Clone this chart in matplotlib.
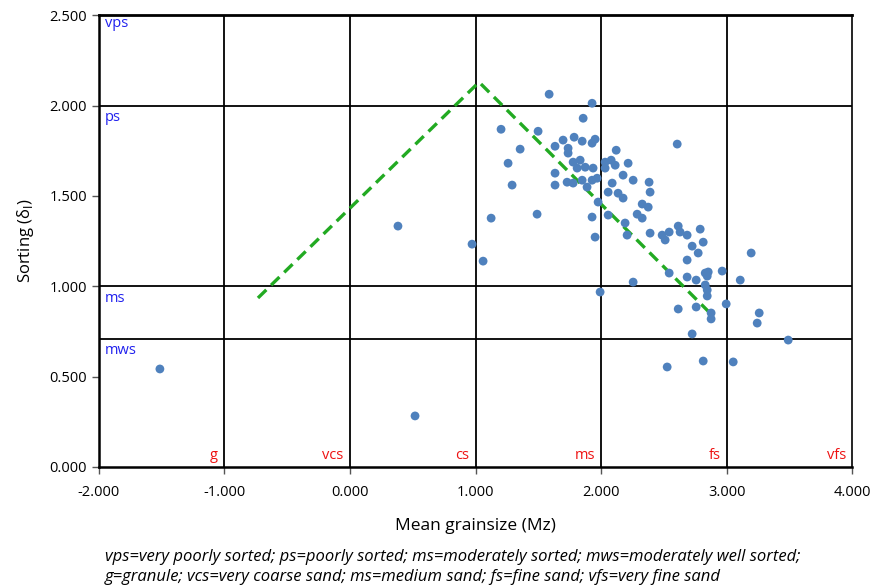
import matplotlib
matplotlib.use("Agg")
import matplotlib.pyplot as plt

# ---- data ----
mean_mz = [-1.514, 0.518, 0.382, 0.972, 1.060, 1.124, 1.490, 1.586, 1.928, 1.857,
           1.203, 1.498, 1.355, 1.259, 1.291, 1.697, 1.785, 1.849, 1.737, 1.737,
           1.633, 1.777, 1.833, 1.809, 1.873, 1.633, 1.633, 1.729, 1.777, 1.849,
           1.888, 1.952, 1.928, 2.606, 2.120, 2.032, 2.080, 2.112, 2.215, 2.175,
           2.255, 2.382, 2.088, 1.936, 1.928, 1.968, 2.032, 2.056, 2.135, 2.175,
           2.390, 1.976, 2.327, 2.375, 2.056, 2.287, 2.327, 1.928, 2.191, 1.952,
           2.207, 2.390, 2.486, 2.542, 2.510, 2.614, 2.629, 2.685, 2.789, 2.813,
           2.725, 2.773, 2.685, 2.542, 2.685, 2.757, 2.829, 2.853, 2.845, 2.829,
           2.255, 1.992, 3.195, 2.964, 3.108, 2.845, 2.845, 2.614, 2.757, 2.996,
           2.876, 2.876, 3.259, 3.243, 2.725, 3.490, 2.526, 2.813, 3.052]
sorting = [0.542, 0.282, 1.333, 1.233, 1.139, 1.377, 1.399, 2.063, 2.013, 1.930,
           1.869, 1.858, 1.759, 1.681, 1.560, 1.809, 1.825, 1.803, 1.764, 1.737,
           1.775, 1.687, 1.698, 1.654, 1.659, 1.626, 1.560, 1.576, 1.571, 1.587,
           1.549, 1.814, 1.792, 1.787, 1.753, 1.687, 1.698, 1.670, 1.681, 1.615,
           1.587, 1.576, 1.571, 1.654, 1.587, 1.598, 1.654, 1.521, 1.515, 1.488,
           1.521, 1.466, 1.455, 1.438, 1.394, 1.399, 1.377, 1.383, 1.350, 1.272,
           1.283, 1.294, 1.283, 1.300, 1.256, 1.333, 1.300, 1.283, 1.316, 1.244,
           1.222, 1.184, 1.145, 1.073, 1.051, 1.034, 1.073, 1.079, 1.056, 1.007,
           1.023, 0.968, 1.184, 1.084, 1.034, 0.979, 0.946, 0.874, 0.885, 0.902,
           0.852, 0.819, 0.852, 0.796, 0.736, 0.702, 0.553, 0.586, 0.581]

trend_x = [-0.733, 1.028, 2.884]
trend_y = [0.935, 2.130, 0.840]

x_ticks = [-2.0, -1.0, 0.0, 1.0, 2.0, 3.0, 4.0]
y_ticks = [0.0, 0.5, 1.0, 1.5, 2.0, 2.5]
sort_bounds = [0.71, 1.0, 2.0]
sort_labels = ["mws", "ms", "ps", "vps"]
sort_label_y = [0.71, 1.0, 2.0, 2.5]
grain_labels = ["g", "vcs", "cs", "ms", "fs", "vfs"]
grain_right = [-1.0, 0.0, 1.0, 2.0, 3.0, 4.0]

caption = ("vps=very poorly sorted; ps=poorly sorted; ms=moderately sorted; mws=moderately well sorted;\n"
           "g=granule; vcs=very coarse sand; ms=medium sand; fs=fine sand; vfs=very fine sand")

# ---- plot ----
plt.rcParams['font.family'] = ['Open Sans', 'DejaVu Sans']
fig = plt.figure(figsize=(8.75, 5.88), dpi=100)
ax = fig.add_axes([0.113, 0.206, 0.861, 0.768])

ax.set_xlim(-2.0, 4.0)
ax.set_ylim(0.0, 2.5)

for xv in x_ticks[1:-1]:
    ax.axvline(xv, color='black', lw=1.3, zorder=1)
for yv in sort_bounds:
    ax.axhline(yv, color='black', lw=1.3, zorder=1)

ax.plot(trend_x, trend_y, color='#22AA22', lw=2.4, dashes=(3.5, 2.0), zorder=2)
ax.scatter(mean_mz, sorting, s=40, color='#4F81BD', edgecolors='none', zorder=3)

for lab, yv in zip(sort_labels, sort_label_y):
    off = 0.005 if yv >= 2.5 else 0.025
    ax.text(-1.95, yv - off, lab, color='#2020EE', fontsize=10.5, ha='left', va='top', zorder=4)
for lab, xv in zip(grain_labels, grain_right):
    ax.text(xv - 0.05, 0.02, lab, color='#EE1111', fontsize=10.5, ha='right', va='bottom', zorder=4)

ax.set_xticks(x_ticks)
ax.set_xticklabels([f"{v:.3f}" for v in x_ticks])
ax.set_yticks(y_ticks)
ax.set_yticklabels([f"{v:.3f}" for v in y_ticks])
ax.tick_params(axis='both', direction='out', length=5, width=1, labelsize=10.5, color='#555555')
ax.tick_params(axis='x', pad=8)

for side in ['left', 'bottom']:
    ax.spines[side].set_linewidth(1.8)
ax.spines['top'].set_linewidth(2.0)
ax.spines['right'].set_linewidth(1.2)

ax.set_xlabel("Mean grainsize (Mz)", fontsize=12.5, labelpad=13)
ax.set_ylabel("Sorting (δ$_\\mathrm{I}$)", fontsize=12, labelpad=10)

fig.text(0.12, 0.005, caption, fontsize=12, style='italic', ha='left', va='bottom', linespacing=1.3)

fig.savefig("out.png", dpi=100)
